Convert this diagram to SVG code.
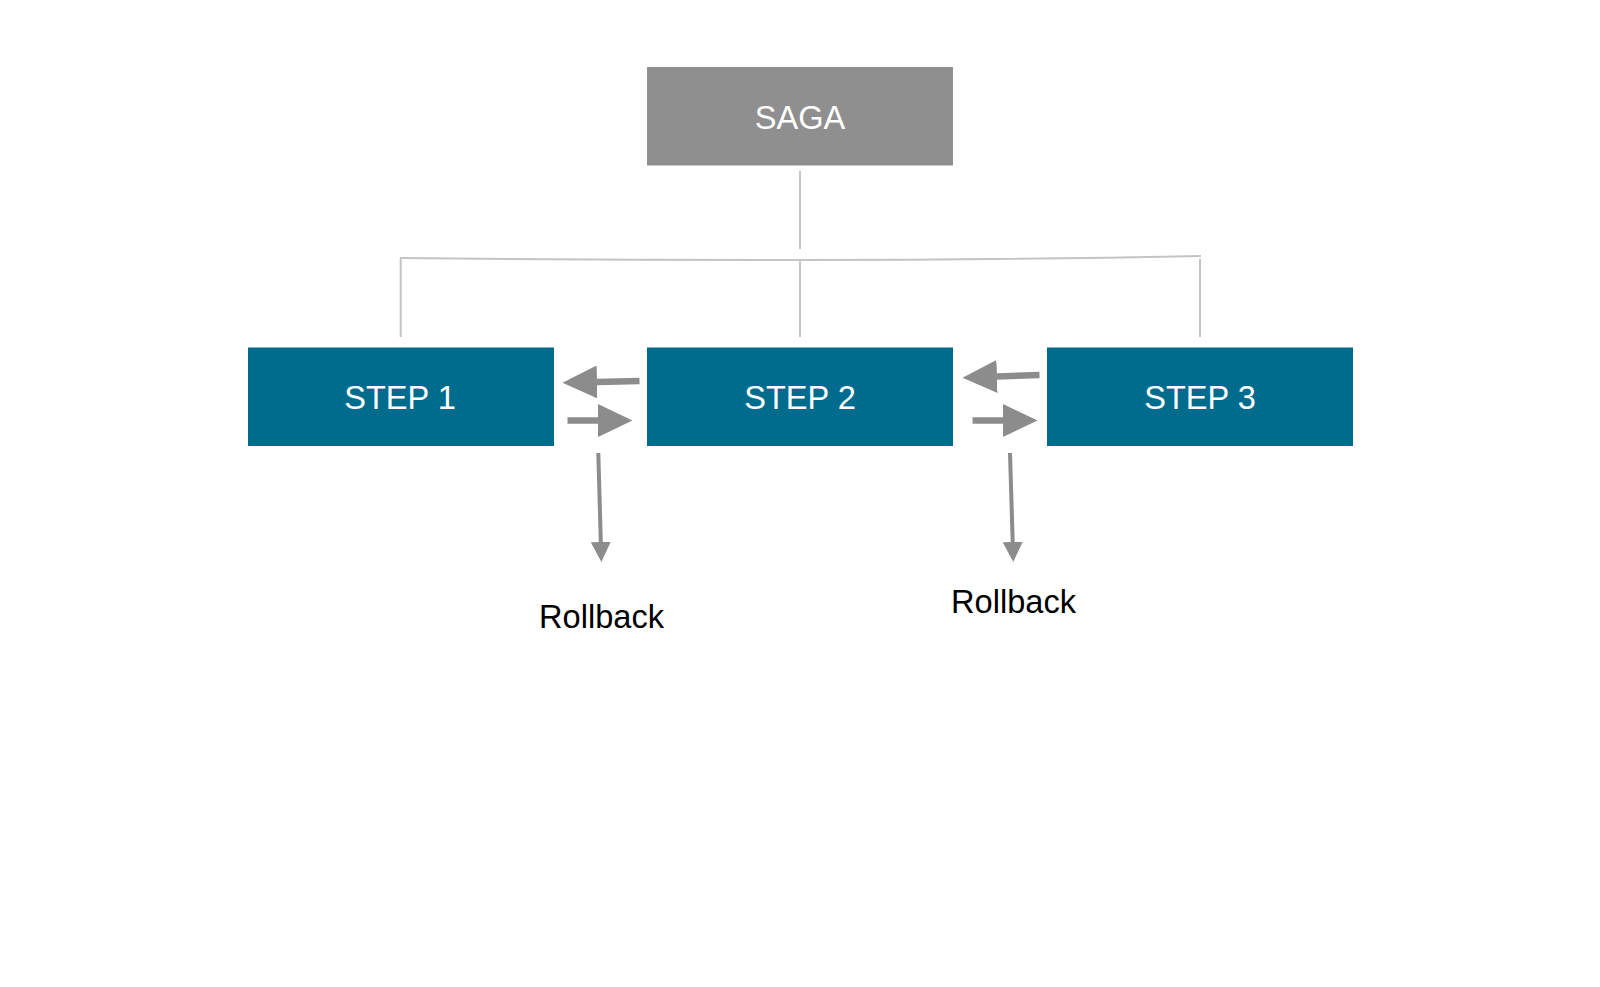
<svg xmlns="http://www.w3.org/2000/svg" width="1600" height="987" viewBox="0 0 1600 987">
  <style>
    .saga { fill: #8f8f8f; }
    .step { fill: #006c8d; }
    .lbl { font-family: "Liberation Sans", Arial, sans-serif; font-size: 32.6px; fill: #ffffff; text-anchor: middle; }
    .rb { font-family: "Liberation Sans", Arial, sans-serif; font-size: 32.6px; fill: #000000; text-anchor: middle; }
    .tree { fill: none; stroke: #c4c4c4; stroke-width: 2; }
    .arr { fill: none; stroke: #8c8c8c; stroke-width: 6.5; }
    .arr-d { fill: none; stroke: #8c8c8c; stroke-width: 4; }
  </style>
  <defs>
    <marker id="headL" markerUnits="userSpaceOnUse" markerWidth="35" markerHeight="33" refX="0" refY="16.5" orient="auto">
      <path d="M0,0 L34.5,16.5 L0,33 z" fill="#8c8c8c"/>
    </marker>
    <marker id="headS" markerUnits="userSpaceOnUse" markerWidth="21" markerHeight="21" refX="0" refY="10" orient="auto">
      <path d="M0,0 L20,10 L0,20 z" fill="#8c8c8c"/>
    </marker>
  </defs>
  <rect width="1600" height="987" fill="#ffffff"/>

  <g id="connectors">
    <line class="tree" x1="800" y1="171" x2="800" y2="249"/>
    <path class="tree" d="M400,258 Q600,260 800,260 Q1000,260 1201,256"/>
    <line class="tree" x1="400.7" y1="258" x2="400.7" y2="337"/>
    <line class="tree" x1="800" y1="260" x2="800" y2="337"/>
    <line class="tree" x1="1200" y1="259" x2="1200" y2="337"/>

    <line class="arr" x1="639.5" y1="381" x2="597" y2="382" marker-end="url(#headL)"/>
    <line class="arr" x1="567.5" y1="420.5" x2="598" y2="420.5" marker-end="url(#headL)"/>
    <line class="arr-d" x1="598.3" y1="453" x2="600.8" y2="542" marker-end="url(#headS)"/>

    <line class="arr" x1="1039.5" y1="375" x2="997" y2="376.5" marker-end="url(#headL)"/>
    <line class="arr" x1="972.5" y1="420.5" x2="1003" y2="420.5" marker-end="url(#headL)"/>
    <line class="arr-d" x1="1010" y1="453" x2="1012.7" y2="542" marker-end="url(#headS)"/>
  </g>

  <g id="saga">
    <rect class="saga" x="647" y="67" width="306" height="98.5"/>
    <text class="lbl" x="800" y="129">SAGA</text>
  </g>
  <g id="step1">
    <rect class="step" x="248" y="347.5" width="306" height="98.5"/>
    <text class="lbl" x="400" y="409">STEP 1</text>
  </g>
  <g id="step2">
    <rect class="step" x="647" y="347.5" width="306" height="98.5"/>
    <text class="lbl" x="800" y="409">STEP 2</text>
  </g>
  <g id="step3">
    <rect class="step" x="1047" y="347.5" width="306" height="98.5"/>
    <text class="lbl" x="1200" y="409">STEP 3</text>
  </g>
  <g id="rollback1">
    <text class="rb" x="601.5" y="627.5">Rollback</text>
  </g>
  <g id="rollback2">
    <text class="rb" x="1013.5" y="612.5">Rollback</text>
  </g>
</svg>
